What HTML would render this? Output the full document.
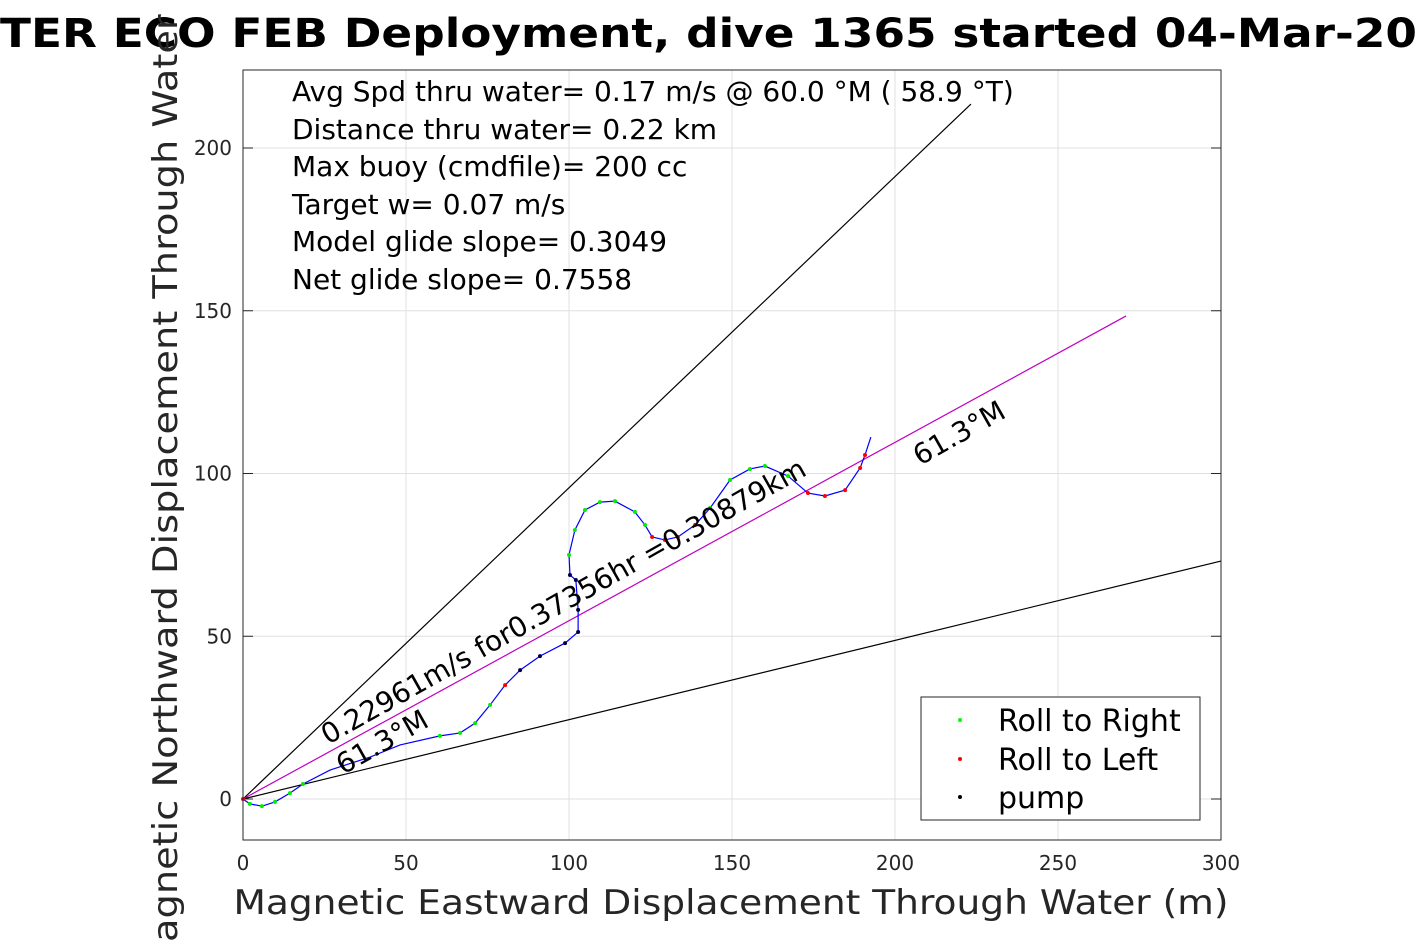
<!DOCTYPE html>
<html><head><meta charset="utf-8"><style>
body{margin:0;background:#fff;}
svg{display:block;font-family:"DejaVu Sans","Liberation Sans",sans-serif;}
</style></head><body>
<svg id="chart" width="1417" height="945" viewBox="0 0 1417 945" xmlns="http://www.w3.org/2000/svg">
<rect width="1417" height="945" fill="#fff"/>
<text x="0" y="47" font-size="40" font-weight="bold" textLength="1417" lengthAdjust="spacingAndGlyphs">TER ECO FEB Deployment, dive 1365 started 04-Mar-20</text>
<g id="grid"></g>
<g id="ticks"></g>
<g id="lines"></g>
<g id="track"></g>
<rect x="243" y="70" width="978" height="770" fill="none" stroke="#262626" stroke-width="1"/>
<g font-size="28" fill="#000">
<text x="292" y="101">Avg Spd thru water=  0.17 m/s @  60.0 °M ( 58.9 °T)</text>
<text x="292" y="139">Distance thru water=  0.22 km</text>
<text x="292" y="176">Max buoy (cmdfile)= 200 cc</text>
<text x="292" y="214">Target w= 0.07 m/s</text>
<text x="292" y="251">Model glide slope= 0.3049</text>
<text x="292" y="289">Net glide slope= 0.7558</text>
</g>
<text font-size="28" transform="translate(328,745) rotate(-29.4)">0.22961m/s for0.37356hr =0.30879km</text>
<text font-size="28" transform="translate(343,775) rotate(-29.4)">61.3°M</text>
<text font-size="28" transform="translate(920,466) rotate(-29.4)">61.3°M</text>
<text x="731" y="914" font-size="34" fill="#262626" text-anchor="middle" textLength="995" lengthAdjust="spacingAndGlyphs">Magnetic Eastward Displacement Through Water (m)</text>
<text font-size="34" fill="#262626" text-anchor="middle" transform="translate(177,455) rotate(-90)" textLength="1040" lengthAdjust="spacingAndGlyphs">Magnetic Northward Displacement Through Water (m)</text>
<g>
<rect x="921" y="697" width="279" height="123" fill="#fff" stroke="#262626"/>
<circle cx="960" cy="720" r="2" fill="#00ff00"/><text x="998" y="731" font-size="30">Roll to Right</text>
<circle cx="960" cy="759" r="2" fill="#ff0000"/><text x="998" y="770" font-size="30">Roll to Left</text>
<circle cx="960" cy="797" r="2" fill="#000"/><text x="998" y="808" font-size="30">pump</text>
</g>
</svg>
<script>
const xTicks=[0,50,100,150,200,250,300];
const yTicks=[0,50,100,150,200];
const trackX=[0,2.1,5.8,9.8,14.4,18.4,26.7,39,48.2,60.4,66.6,71.2,75.8,80.4,85,91.1,98.8,102.8,102.8,102.1,100.3,100,101.8,104.9,109.5,114.1,120.2,123.3,125.5,129.4,133.4,138.7,143.3,149.4,155.5,160.1,167.2,173.3,178.5,184.7,189.3,190.8,192.6];
const trackY=[0,-1.5,-2.2,-0.9,1.8,4.6,8.9,12.9,16.6,19.4,20.3,23.3,28.9,35,39.6,43.9,47.9,51.3,58.1,67.3,68.8,75,82.6,88.8,91.2,91.5,88.2,84.2,80.5,79.6,80.5,84.2,89.4,98,101.4,102.3,99.2,94,93.1,94.9,101.7,105.7,111.2];
const markType=["L","R","R","R","R","R","N","N","N","R","R","R","R","L","P","P","P","P","P","P","P","R","R","R","R","R","R","R","L","L","L","L","R","R","R","R","R","L","L","L","L","L","N"];
const refEndX=[223.3,270.9,300];
const refEndY=[213.5,148.4,73.1];
const ns="http://www.w3.org/2000/svg";
const sx=v=>243+v*978/300, sy=v=>799-v*3.255;
function mk(t,p,a){const e=document.createElementNS(ns,t);for(const k in a)e.setAttribute(k,a[k]);p.appendChild(e);return e;}
const g=document.getElementById('grid'),tk=document.getElementById('ticks');
xTicks.forEach(v=>{
 const l=mk('line',g,{x1:sx(v),x2:sx(v),y1:70,y2:840,stroke:'#e0e0e0'});
 
 
 const t=mk('text',tk,{x:sx(v),y:870,'font-size':20,'text-anchor':'middle',fill:'#262626'});t.textContent=v;
 
 
});
yTicks.forEach(v=>{
 const l=mk('line',g,{x1:243,x2:1221,y1:sy(v),y2:sy(v),stroke:'#e0e0e0'});
 
 
 mk('line',tk,{x1:243,x2:253,y1:sy(v),y2:sy(v),stroke:'#262626'});
 mk('line',tk,{x1:1211,x2:1221,y1:sy(v),y2:sy(v),stroke:'#262626'});
 const t=mk('text',tk,{x:232,y:sy(v)+7,'font-size':20,'text-anchor':'end',fill:'#262626'});t.textContent=v;
 
 
});
const L=document.getElementById('lines');
const refCol=['#000','#c000c0','#000'];
refEndX.forEach((x,i)=>{
 const l=mk('line',L,{x1:sx(0),y1:sy(0),x2:sx(x),y2:sy(refEndY[i]),stroke:refCol[i],'stroke-width':1.2});
 
 
});
const T=document.getElementById('track');
const pl=mk('polyline',T,{points:trackX.map((x,i)=>sx(x)+','+sy(trackY[i])).join(' '),fill:'none',stroke:'#0000ff','stroke-width':1.2});


const cols={R:'#00ee00',L:'#ff0000',P:'#000040'};
trackX.forEach((x,i)=>{
 if(!cols[markType[i]])return;
 const c=mk('circle',T,{cx:sx(x),cy:sy(trackY[i]),r:2,fill:cols[markType[i]]});
 
 
});
</script>
</body></html>
